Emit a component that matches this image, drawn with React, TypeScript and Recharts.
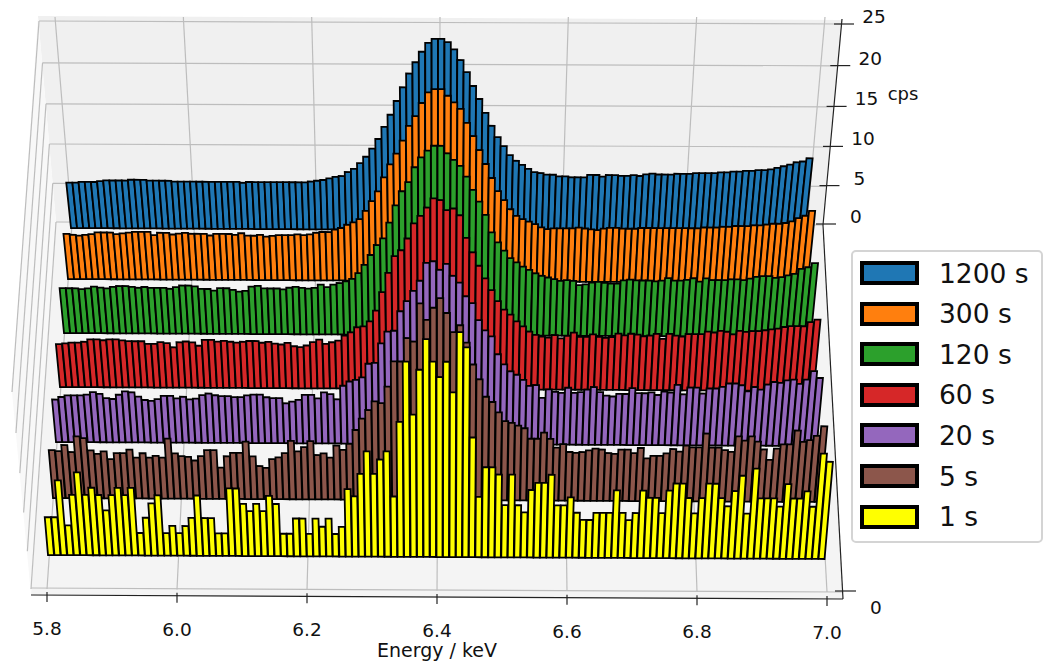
import React from 'react';
import { BarChart, Bar, ComposedChart, Line, XAxis, YAxis } from 'recharts';

const W = 1043;
const H = 663;
const FONT = '"DejaVu Sans", sans-serif';

const labels = ['1200 s', '300 s', '120 s', '60 s', '20 s', '5 s', '1 s'];
const colors = ['#1f77b4', '#ff7f0e', '#2ca02c', '#d62728', '#9467bd', '#8c564b', '#ffff00'];
const energyTicks = [5.8, 6.0, 6.2, 6.4, 6.6, 6.8, 7.0];
const cpsTicks = [0, 5, 10, 15, 20, 25];

const cps1200 = [
  5.6, 5.6, 5.7, 5.7, 5.7, 5.8, 5.9, 5.9, 5.9, 5.9,
  6.0, 6.0, 6.0, 5.9, 5.9, 5.9, 5.9, 5.8, 5.8, 5.8,
  5.8, 5.8, 5.8, 5.8, 5.8, 5.8, 5.8, 5.8, 5.7, 5.8,
  5.8, 5.8, 5.8, 5.8, 5.8, 5.8, 5.8, 5.8, 5.8, 5.9,
  6.0, 6.1, 6.3, 6.5, 6.6, 7.1, 7.5, 8.2, 9.0, 10.0,
  11.2, 12.7, 14.2, 15.9, 17.6, 19.3, 20.7, 22.0, 23.1, 23.6,
  23.6, 23.2, 22.3, 21.0, 19.5, 17.8, 16.2, 14.5, 12.9, 11.5,
  10.4, 9.3, 8.6, 8.1, 7.6, 7.2, 7.1, 6.9, 6.9, 6.7,
  6.7, 6.6, 6.6, 6.6, 6.9, 6.9, 6.7, 6.9, 6.9, 6.8,
  6.8, 6.9, 6.8, 7.0, 7.1, 7.0, 7.0, 7.0, 7.1, 7.1,
  7.1, 7.2, 7.2, 7.2, 7.2, 7.3, 7.3, 7.4, 7.4, 7.5,
  7.5, 7.6, 7.6, 7.7, 7.9, 8.1, 8.3, 8.6, 8.7, 9.1,
];

const cps300 = [
  5.5, 5.4, 5.3, 5.4, 5.5, 5.7, 5.7, 5.7, 5.5, 5.6,
  5.7, 5.8, 5.8, 5.8, 5.4, 5.7, 5.7, 5.5, 5.6, 5.7,
  5.6, 5.6, 5.6, 5.4, 5.6, 5.6, 5.6, 5.5, 5.7, 5.4,
  5.4, 5.5, 5.3, 5.4, 5.5, 5.5, 5.5, 5.6, 5.5, 5.6,
  5.8, 5.9, 5.9, 6.2, 6.4, 6.8, 7.1, 7.5, 8.5, 9.7,
  10.9, 12.6, 14.2, 15.5, 17.1, 18.9, 20.1, 21.7, 23.0, 23.4,
  23.4, 22.6, 21.8, 21.0, 19.3, 17.7, 16.0, 14.3, 12.6, 11.0,
  9.9, 8.8, 8.0, 7.6, 7.3, 7.0, 6.6, 6.4, 6.5, 6.5,
  6.5, 6.5, 6.6, 6.5, 6.4, 6.3, 6.5, 6.6, 6.6, 6.5,
  6.5, 6.5, 6.6, 6.6, 6.6, 6.6, 6.6, 6.6, 6.6, 6.6,
  6.6, 6.6, 6.7, 6.7, 6.7, 6.8, 6.8, 6.9, 6.9, 6.9,
  7.0, 7.0, 7.1, 7.2, 7.2, 7.3, 7.5, 7.9, 8.2, 8.8,
];

const cps120 = [
  5.4, 5.4, 5.4, 5.3, 5.4, 5.6, 5.5, 5.4, 5.6, 5.7,
  5.7, 5.6, 5.5, 5.6, 5.5, 5.5, 5.5, 5.4, 5.6, 5.8,
  5.8, 5.7, 5.4, 5.4, 5.2, 5.5, 5.5, 5.3, 5.1, 5.2,
  5.7, 5.8, 5.5, 5.5, 5.5, 5.4, 5.6, 5.7, 5.6, 5.5,
  5.6, 6.0, 5.7, 6.0, 6.2, 6.4, 6.7, 7.4, 8.4, 9.6,
  10.8, 11.6, 13.5, 15.6, 17.3, 18.4, 20.2, 21.4, 22.2, 22.8,
  22.8, 21.9, 21.1, 20.4, 19.1, 17.5, 16.1, 14.5, 12.4, 11.2,
  10.2, 9.3, 8.8, 8.3, 7.9, 7.5, 7.2, 7.0, 6.8, 6.6,
  6.7, 6.6, 6.1, 6.2, 6.4, 6.5, 6.4, 6.3, 6.3, 6.7,
  6.8, 6.7, 6.7, 6.7, 6.6, 6.7, 7.0, 6.7, 6.7, 6.8,
  7.0, 6.6, 7.0, 6.8, 6.8, 6.8, 6.9, 6.9, 6.8, 7.0,
  7.2, 7.3, 7.3, 7.1, 7.2, 7.4, 7.6, 8.2, 8.4, 8.9,
];

const cps60 = [
  5.1, 5.2, 5.3, 5.3, 5.4, 5.7, 5.7, 5.6, 5.7, 5.7,
  5.6, 5.5, 5.5, 5.5, 5.2, 5.2, 5.4, 5.3, 4.8, 5.4,
  5.5, 5.4, 5.0, 5.7, 5.7, 5.5, 5.6, 5.5, 5.4, 5.5,
  5.6, 5.6, 5.4, 5.5, 5.3, 5.2, 5.4, 5.0, 4.9, 5.1,
  5.5, 5.8, 5.3, 5.5, 5.7, 6.3, 6.7, 7.3, 7.4, 8.0,
  9.3, 11.5, 13.8, 15.8, 16.5, 17.9, 19.7, 20.6, 21.6, 22.7,
  22.5, 21.3, 21.5, 20.7, 18.0, 16.3, 14.7, 13.2, 11.8, 10.5,
  9.5, 8.9, 8.1, 7.5, 6.9, 6.5, 6.3, 6.2, 6.5, 6.1,
  6.4, 6.8, 6.3, 6.3, 6.6, 6.3, 6.2, 6.3, 6.7, 6.5,
  6.7, 6.6, 6.4, 6.5, 6.7, 6.1, 6.7, 6.5, 6.4, 6.7,
  6.7, 6.7, 7.0, 6.9, 7.1, 7.0, 6.7, 7.1, 7.0, 7.1,
  7.1, 7.2, 7.3, 7.4, 7.6, 7.7, 7.7, 7.7, 8.2, 8.5,
];

const cps20 = [
  5.0, 5.3, 5.5, 5.5, 5.5, 5.6, 5.9, 5.7, 5.2, 5.1,
  5.6, 6.0, 5.9, 5.4, 5.0, 4.9, 5.1, 5.5, 5.5, 5.2,
  5.4, 5.1, 5.2, 5.6, 5.8, 5.6, 5.5, 5.5, 5.4, 5.4,
  5.6, 5.7, 5.7, 5.4, 5.3, 5.3, 4.7, 4.9, 5.1, 5.7,
  5.7, 5.3, 6.0, 5.8, 5.2, 6.8, 7.3, 7.5, 7.8, 9.4,
  9.5, 11.8, 13.2, 13.3, 15.6, 16.8, 18.0, 19.2, 21.3, 21.5,
  20.5, 21.2, 19.8, 19.0, 17.4, 16.6, 14.6, 13.4, 12.7, 10.6,
  9.4, 8.6, 8.2, 7.6, 6.9, 7.0, 5.5, 6.5, 6.2, 6.1,
  6.7, 6.1, 6.2, 6.5, 6.8, 6.2, 5.8, 5.7, 6.0, 6.0,
  6.7, 6.1, 6.1, 6.2, 5.9, 6.3, 6.2, 7.1, 6.0, 6.8,
  6.8, 6.1, 6.7, 6.7, 6.9, 7.3, 7.3, 7.1, 6.4, 6.9,
  6.6, 7.2, 7.5, 7.4, 7.7, 7.8, 7.3, 7.8, 8.8, 8.0,
];

const cps5 = [
  5.5, 5.4, 6.1, 5.3, 7.1, 6.9, 5.5, 5.1, 5.4, 4.5,
  5.2, 5.2, 5.6, 4.7, 5.2, 4.7, 4.9, 4.7, 6.9, 5.2,
  4.9, 4.8, 4.4, 4.9, 5.6, 5.6, 3.6, 4.9, 5.3, 5.3,
  6.6, 4.9, 3.8, 3.6, 4.6, 4.8, 5.3, 6.7, 5.5, 6.0,
  6.7, 5.1, 5.3, 4.8, 6.2, 5.7, 6.4, 8.0, 9.3, 10.3,
  11.3, 11.1, 13.0, 15.9, 15.9, 18.6, 18.2, 22.6, 20.7, 22.1,
  23.2, 21.5, 19.3, 20.1, 18.1, 15.6, 13.9, 11.9, 11.3, 10.1,
  9.1, 8.9, 8.6, 8.3, 7.1, 7.1, 7.8, 7.1, 6.1, 6.5,
  5.6, 5.5, 5.6, 5.8, 6.0, 5.9, 5.5, 5.4, 5.9, 5.9,
  5.5, 6.1, 4.9, 5.2, 5.2, 5.5, 6.0, 5.7, 6.4, 6.2,
  6.2, 7.8, 6.2, 6.2, 5.9, 5.7, 7.5, 7.0, 7.5, 6.9,
  6.0, 4.8, 6.1, 6.6, 6.6, 8.2, 6.9, 7.1, 7.6, 8.7,
];

const cps1 = [
  4.2, 4.2, 8.3, 3.3, 6.7, 9.2, 6.7, 7.5, 6.7, 5.0,
  6.7, 7.5, 6.7, 7.5, 2.5, 4.2, 5.8, 6.7, 2.5, 3.3,
  2.5, 3.3, 4.2, 6.7, 4.2, 4.2, 2.5, 2.5, 7.5, 7.5,
  5.8, 5.0, 5.8, 5.0, 6.7, 5.8, 2.5, 2.5, 4.2, 4.2,
  2.5, 4.2, 3.3, 4.2, 2.5, 3.3, 7.5, 6.7, 9.2, 11.7,
  9.2, 10.8, 11.7, 6.7, 15.0, 21.7, 15.8, 20.8, 24.2, 21.7,
  20.0, 21.7, 18.3, 25.0, 23.3, 13.3, 6.7, 10.0, 10.0, 9.2,
  5.8, 9.2, 5.8, 5.0, 7.5, 8.3, 8.3, 9.2, 5.8, 5.8,
  6.7, 5.0, 4.2, 4.2, 5.0, 5.0, 5.0, 7.5, 5.0, 4.2,
  5.0, 7.5, 6.7, 6.7, 5.0, 7.5, 8.3, 8.3, 6.7, 5.0,
  6.7, 8.3, 8.3, 6.7, 5.8, 7.5, 9.2, 5.0, 10.0, 6.7,
  6.7, 6.7, 5.8, 8.3, 6.7, 6.7, 7.5, 5.8, 11.7, 10.8,
];

const series = [cps1200, cps300, cps120, cps60, cps20, cps5, cps1];

// where each row of bars sits in the fake perspective, back row first
const rowGeometry = [
  { left: 71, right: 805, base: 228, scale: 8.1, depth: 3500 },
  { left: 68, right: 808, base: 279, scale: 8.2, depth: 3650 },
  { left: 64, right: 811, base: 333, scale: 8.3, depth: 3800 },
  { left: 60, right: 814, base: 387, scale: 8.4, depth: 3950 },
  { left: 56, right: 817, base: 442, scale: 8.5, depth: 4100 },
  { left: 53, right: 821, base: 498, scale: 8.7, depth: 4300 },
  { left: 48, right: 825, base: 555, scale: 9.0, depth: 4500 },
];

const VANISH_X = 437;
const TILT = 4;
const TOP_CPS = 25;

const lerp = (a: number, b: number, t: number) => a + (b - a) * t;
// the z axis spacing shrinks a little towards the top of the wall
const warp = (t: number) => t - 0.05 * t * (1 - t);

// lean every bar away from the middle and tilt the row slightly
const perspectiveBar = (geo: any, fill: string) => (props: any) => {
  const { x, y, width, height } = props;
  const tilt = (px: number) => (TILT * (px - geo.left)) / (geo.right - geo.left);
  const lean = (px: number) => ((px - VANISH_X) / geo.depth) * height;
  const x2 = x + width;
  const bottom = y + height;
  const points = [
    [x, bottom + tilt(x)],
    [x + lean(x), y + tilt(x)],
    [x2 + lean(x2), y + tilt(x2)],
    [x2, bottom + tilt(x2)],
  ]
    .map((p) => p.join(','))
    .join(' ');
  return <polygon points={points} fill={fill} stroke="#000" strokeWidth={1.8} strokeLinejoin="miter" />;
};

const Panes = () => {
  const gridColor = '#bdbdbd';
  const xLines = energyTicks.map((_, i) => i / (energyTicks.length - 1));
  const zLines = cpsTicks.map((_, i) => warp(i / (cpsTicks.length - 1)));
  return (
    <svg width={W} height={H} style={{ position: 'absolute', left: 0, top: 0 }}>
      <polygon points="38,16 842,20 822,225 56,222" fill="#f0f0f0" />
      <polygon points="38,16 56,222 31,595 12,392" fill="#f8f8f8" />
      <polygon points="56,222 822,225 843,599 31,595" fill="#f4f4f4" />
      {zLines.map((t) => (
        <g key={t} stroke={gridColor} strokeWidth={1.2} fill="none">
          <line x1={lerp(56, 39, t)} y1={lerp(222, 21, t)} x2={lerp(823, 841, t)} y2={lerp(225, 24, t)} />
          <line x1={lerp(56, 39, t)} y1={lerp(222, 21, t)} x2={lerp(31, 12, t)} y2={lerp(589, 392, t)} />
        </g>
      ))}
      {xLines.map((t) => (
        <g key={t} stroke={gridColor} strokeWidth={1.2} fill="none">
          <line x1={lerp(55, 825, t)} y1={17} x2={lerp(72, 807, t)} y2={224} />
          <line x1={lerp(72, 807, t)} y1={224} x2={lerp(47, 827, t)} y2={lerp(589, 592, t)} />
        </g>
      ))}
      <line x1={31} y1={588} x2={843} y2={592} stroke={gridColor} strokeWidth={1.2} />
      <g stroke="#222" strokeWidth={1.2} fill="none">
        <line x1={31} y1={595} x2={843} y2={599} />
        <line x1={823} y1={225} x2={843} y2={599} />
        <line x1={823} y1={225} x2={842} y2={19} />
        <line x1={835} y1={591} x2={856} y2={591} />
      </g>
      <text x={903} y={100} fontFamily={FONT} fontSize={18} textAnchor="middle" fill="#111">cps</text>
      <text x={437} y={657} fontFamily={FONT} fontSize={19} textAnchor="middle" fill="#111">Energy / keV</text>
      <text x={876} y={614} fontFamily={FONT} fontSize={18.5} textAnchor="middle" fill="#111">0</text>
    </svg>
  );
};

// the x ticks are read on the front edge of the floor, not on the back wall
const EnergyTick = (props: any) => {
  const { x, payload } = props;
  const yAxis = 595 + (4 * (x - 47)) / 780;
  return (
    <g>
      <line x1={x} y1={yAxis - 3} x2={x} y2={yAxis + 7} stroke="#222" strokeWidth={1.2} />
      <text x={x} y={yAxis + 40} fontFamily={FONT} fontSize={18.5} textAnchor="middle" fill="#111">
        {Number(payload.value).toFixed(1)}
      </text>
    </g>
  );
};

const CpsTick = (props: any) => {
  const { y, payload } = props;
  const yTick = 224 - 200 * warp((224 - y) / 200);
  const xAxis = 823 + (224 - yTick) * 0.09;
  return (
    <g>
      <line x1={xAxis - 7} y1={yTick} x2={xAxis + 13} y2={yTick} stroke="#222" strokeWidth={1.2} />
      <text x={xAxis + 33} y={yTick - 1} fontFamily={FONT} fontSize={18.5} textAnchor="middle" fill="#111">
        {payload.value}
      </text>
    </g>
  );
};

const Axes = () => (
  <div style={{ position: 'absolute', left: 0, top: 0 }}>
    <ComposedChart
      width={W}
      height={H}
      data={energyTicks.map((energy) => ({ energy, level: 0 }))}
      margin={{ left: 47, right: 215, top: 24, bottom: 438 }}
    >
      <XAxis
        type="number"
        dataKey="energy"
        domain={[5.8, 7.0]}
        ticks={energyTicks}
        interval={0}
        height={1}
        axisLine={false}
        tickLine={false}
        tick={<EnergyTick />}
      />
      <YAxis
        orientation="right"
        domain={[0, 25]}
        ticks={cpsTicks}
        interval={0}
        width={1}
        axisLine={false}
        tickLine={false}
        tick={<CpsTick />}
      />
      <Line dataKey="level" stroke="none" dot={false} isAnimationActive={false} />
    </ComposedChart>
  </div>
);

const Row = ({ index }: { index: number }) => {
  const geo = rowGeometry[index];
  const data = series[index].map((value, bin) => ({ bin, value }));
  const plotHeight = TOP_CPS * geo.scale;
  return (
    <div style={{ position: 'absolute', left: 0, top: 0 }}>
      <BarChart
        width={W}
        height={H}
        data={data}
        barCategoryGap={0}
        margin={{ left: geo.left, right: W - geo.right, top: geo.base - plotHeight, bottom: H - geo.base }}
      >
        <XAxis dataKey="bin" hide />
        <YAxis hide domain={[0, TOP_CPS]} />
        <Bar dataKey="value" shape={perspectiveBar(geo, colors[index])} isAnimationActive={false} />
      </BarChart>
    </div>
  );
};

const LegendBox = () => (
  <div
    style={{
      position: 'absolute',
      left: 851,
      top: 250,
      width: 192,
      height: 293,
      boxSizing: 'border-box',
      background: '#fff',
      border: '2px solid #d4d4d4',
      borderRadius: 5,
      fontFamily: FONT,
      fontSize: 26.5,
      color: '#111',
    }}
  >
    {labels.map((label, i) => (
      <div key={label} style={{ position: 'absolute', left: 7, top: 9 + i * 40.6, height: 24, display: 'flex', alignItems: 'center' }}>
        <span style={{ display: 'block', boxSizing: 'border-box', width: 59, height: 24, background: colors[i], border: '4px solid #000' }} />
        <span style={{ marginLeft: 20, whiteSpace: 'nowrap' }}>{label}</span>
      </div>
    ))}
  </div>
);

export default function App() {
  return (
    <div style={{ position: 'absolute', left: 0, top: 0, width: W, height: H, background: '#fff', overflow: 'hidden' }}>
      <Panes />
      <Axes />
      {series.map((_, i) => (
        <Row key={labels[i]} index={i} />
      ))}
      <LegendBox />
    </div>
  );
}
